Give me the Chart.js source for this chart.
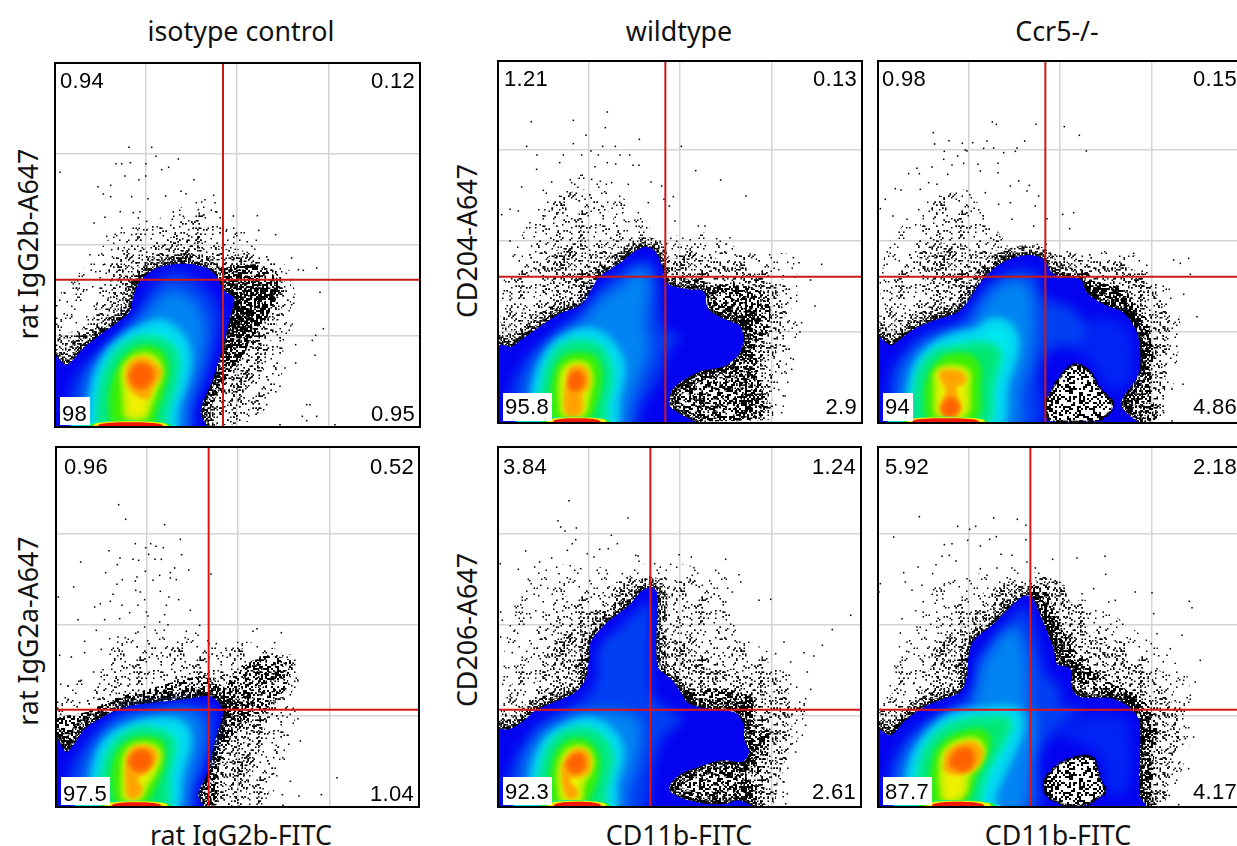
<!doctype html>
<html lang="en">
<head>
<meta charset="UTF-8">
<title>Flow cytometry density plots</title>
<script src="https://cdn.jsdelivr.net/npm/chart.js"></script>
<style>
html, body { margin: 0; background: #fff; overflow: hidden; }
body { position: relative; width: 1237px; height: 846px; font-family: "Noto Sans", "Liberation Sans", Arial, sans-serif; color: #111; }
.panel { position: absolute; border: 2px solid #000; }
.panel canvas { display: block; }
.lbl { position: absolute; white-space: nowrap; font-size: 26.8px; transform: translate(-50%, -50%); }
.lbl.rot { transform: translate(-50%, -50%) rotate(-90deg); }
</style>
</head>
<body>
<script>
// all values are channels on a 0-1090 display scale, one grid step is a decade
const gridTicks = [270, 543, 817];
const levelColors = ['#0040f2', '#0084f2', '#00e8f0', '#00e870', '#40f000', '#f0f000', '#ffa000', '#ff6000'];
const levelBlurs = [6, 5, 4, 3, 3, 2, 2, 0];
const levelSwell = [0, 2, 7, 6, 5, 4, 4, 3];
const bandColors = ['#00e8e8', '#20e840', '#f0f000', '#f01800'];

// ---- isotype control, rat IgG2b
const isoBQuadrants = ['0.94', '0.12', '98', '0.95'];
const isoBGate = [501, 439];
const isoBOutline = [[0,-20],[0,209],[12,199],[27,184],[42,189],[82,234],[132,274],[182,309],[222,344],[232,389],[252,434],[292,469],[342,484],[402,486],[452,474],[482,449],[502,409],[534,384],[527,344],[502,244],[472,144],[434,44],[452,-20]];
const isoBLevels = [
  [[42,-20],[42,94],[72,164],[142,234],[222,314],[262,374],[292,424],[362,464],[422,434],[472,384],[492,324],[482,254],[452,154],[412,54],[392,-20]],
  [[82,-20],[92,104],[122,184],[192,254],[262,324],[302,374],[352,404],[412,374],[442,314],[442,244],[422,154],[392,64],[377,-20]],
  [[107,-20],[117,104],[152,204],[212,264],[272,294],[322,304],[372,264],[392,204],[377,124],[352,54],[337,-20]],
  [[132,-20],[142,104],[172,194],[222,244],[282,259],[342,234],[357,184],[342,104],[322,44],[312,-20]],
  [[172,14],[172,104],[197,179],[242,224],[302,224],[327,174],[312,104],[292,44],[282,14]],
  [[212,29],[207,114],[207,174],[252,209],[297,199],[312,159],[292,104],[277,64],[262,29]],
  [[217,129],[222,179],[257,199],[297,179],[307,154],[282,114],[272,89],[242,99]],
  [[222,149],[242,179],[272,179],[287,154],[267,119],[237,124]]
];
const isoBBand = [
  [[20,-9],[60,6],[222,16],[340,6],[385,-9]],
  [[90,-9],[110,7],[222,15],[335,7],[360,-9]],
  [[105,-9],[120,8],[222,14],[325,8],[340,-9]],
  [[118,-9],[133,6],[222,11],[312,6],[327,-9]]
];
const isoBHeavy = [[[512,424],[622,434],[672,414],[632,324],[582,254],[542,204],[512,244]]];
const isoBDense = [[[502,474],[602,484],[672,434],[662,374],[602,314],[582,254],[562,214],[512,144],[472,74],[452,14],[422,24],[482,204],[512,354]]];
const isoBMedium = [[[0,224],[0,269],[82,294],[152,384],[182,464],[262,534],[332,564],[422,574],[502,534],[632,484],[692,424],[672,334],[642,244],[622,164],[572,104],[542,9],[452,9]]];
const isoBLight = [[[122,364],[142,464],[202,554],[282,594],[422,634],[482,624],[512,544],[642,504],[702,444],[702,314],[662,164],[622,44],[482,14],[492,304],[212,404],[112,304]]];
const isoBSparse = [[[0,384],[112,504],[182,584],[312,624],[422,674],[492,644],[622,544],[702,464],[722,344],[682,224],[672,104],[582,14],[452,14],[0,204]]];
const isoBDots = [[219,836],[287,836],[300,809],[367,801],[180,787],[197,787],[223,790],[270,787],[12,761],[317,769],[338,776],[207,750],[269,750],[249,739],[414,739],[126,718],[164,722],[142,696],[164,688],[227,688],[276,682],[329,690],[375,704],[390,697],[473,692],[447,679],[437,672],[477,670],[193,643],[114,609],[147,626],[232,640],[252,643],[247,624],[272,614],[352,642],[382,629],[427,649],[482,642],[532,630],[604,631],[512,589],[608,587],[659,574],[542,579],[152,569],[197,594],[227,574],[102,514],[167,529],[187,534],[142,484],[132,464],[62,414],[27,399],[82,404],[2,361],[47,334],[147,424],[157,384],[122,364],[707,504],[742,467],[782,474],[727,469],[792,401],[707,364],[802,292],[779,272],[769,257],[719,244],[682,259],[777,212],[719,189],[687,174],[672,119],[752,64],[762,64],[782,29],[739,29],[752,16],[837,4],[672,4],[632,64],[592,84]];

// ---- wildtype, CD204
const wtAQuadrants = ['1.21', '0.13', '95.8', '2.9'];
const wtAGate = [499, 436];
const wtAOutline = [[0,-20],[0,228],[38,226],[68,248],[118,283],[178,323],[248,353],[278,398],[298,433],[358,473],[408,513],[443,526],[468,513],[488,473],[503,418],[568,398],[613,393],[628,338],[678,308],[723,288],[733,248],[723,208],[678,168],[608,153],[558,128],[518,93],[513,48],[538,28],[598,-10]];
const wtALevels = [
  [[38,-20],[38,98],[68,168],[138,248],[228,318],[278,368],[318,418],[408,478],[458,478],[478,418],[488,298],[508,268],[548,258],[508,218],[488,148],[428,48],[408,-20]],
  [[78,-20],[88,98],[118,188],[188,258],[248,298],[308,368],[368,408],[428,458],[448,408],[438,298],[448,218],[418,128],[388,48],[368,-20]],
  [[103,-20],[113,98],[148,198],[198,248],[268,268],[328,238],[363,168],[348,78],[328,-20]],
  [[128,-20],[143,118],[178,208],[238,233],[298,218],[328,148],[313,58],[298,-20]],
  [[163,13],[168,118],[193,183],[248,198],[288,183],[298,128],[278,38],[258,13]],
  [[193,23],[188,118],[203,163],[253,173],[273,138],[263,78],[248,23]],
  [[203,28],[203,68],[210,128],[218,158],[253,158],[263,108],[243,88],[243,38],[228,23]],
  [[213,133],[228,148],[248,138],[248,113],[228,98],[213,108]]
];
const wtABand = [
  [[30,-9],[70,6],[232,16],[340,6],[370,-9]],
  [[120,-9],[135,7],[232,15],[325,7],[340,-9]],
  [[140,-9],[150,8],[232,14],[315,8],[325,-9]],
  [[158,-9],[168,6],[232,11],[298,6],[308,-9]]
];
const wtADense = [
  [[518,98],[598,148],[698,178],[738,238],[768,238],[778,148],[808,48],[768,8],[598,3],[538,23]],
  [[618,398],[698,418],[808,378],[808,278],[758,238],[718,298],[638,328]]
];
const wtAMedium = [
  [[498,478],[578,508],[698,478],[818,418],[858,338],[828,198],[818,98],[818,8],[598,8]],
  [[8,238],[38,308],[138,398],[108,458],[178,518],[258,548],[358,508],[308,448],[248,358],[118,288]]
];
const wtALight = [
  [[18,398],[88,538],[148,658],[268,698],[378,568],[448,528],[328,478],[238,378],[78,258],[8,238]],
  [[498,538],[678,538],[828,458],[878,378],[858,198],[808,98],[478,298]]
];
const wtASparse = [[[3,298],[18,448],[88,598],[148,698],[278,748],[398,648],[478,558],[628,568],[738,508],[878,498],[898,298],[878,148],[838,18],[598,8],[248,300]]];
const wtADots = [[97,901],[223,905],[325,930],[319,883],[261,860],[223,835],[83,827],[311,827],[349,827],[421,848],[547,827],[590,754],[665,726],[741,678],[114,801],[193,801],[182,778],[248,801],[276,813],[298,801],[363,801],[392,801],[113,758],[325,778],[350,774],[402,770],[420,770],[288,766],[68,705],[133,695],[158,720],[218,718],[278,728],[338,718],[388,713],[456,720],[488,708],[495,668],[523,676],[511,648],[8,622],[33,638],[58,633],[93,598],[138,618],[178,628],[258,668],[308,648],[418,628],[448,658],[528,603],[598,588],[618,588],[653,550],[693,553],[968,473],[883,493],[900,478],[935,426],[948,348],[908,298],[903,270],[870,218],[883,188],[878,158],[858,78],[848,28],[38,348],[13,385],[33,378],[23,308],[33,543],[98,528]];

// ---- Ccr5-/-, CD204
const koAQuadrants = ['0.98', '0.15', '94', '4.86'];
const koAGate = [499, 436];
const koAOutline = [[0,-20],[0,253],[34,230],[64,248],[104,278],[174,308],[234,328],[264,358],[304,418],[354,468],[404,493],[454,501],[494,488],[524,443],[604,428],[624,388],[674,353],[734,328],[774,268],[784,188],[774,133],[734,78],[729,43],[779,-10]];
const koAHole = [[499,58],[524,108],[564,158],[594,173],[634,148],[664,98],[699,63],[699,38],[654,3],[514,3]];
const koATint = [[[514,238],[594,298],[724,298],[764,198],[744,108],[694,98],[654,148],[614,198]]];
const koALevels = [
  [[34,-20],[34,138],[74,208],[144,268],[234,298],[284,358],[334,418],[414,458],[474,448],[494,378],[594,328],[614,248],[534,228],[484,168],[464,-20]],
  [[64,-20],[74,138],[114,208],[194,258],[274,288],[324,368],[384,418],[444,408],[464,318],[454,198],[424,98],[404,-20]],
  [[89,-20],[104,118],[139,198],[214,248],[294,268],[344,298],[394,278],[404,218],[374,118],[344,-20]],
  [[109,-20],[124,128],[164,198],[234,218],[314,228],[354,208],[334,118],[304,-20]],
  [[149,13],[149,108],[184,178],[244,198],[289,178],[294,108],[279,13]],
  [[174,23],[174,98],[179,153],[259,153],[264,98],[254,23]],
  [[186,148],[224,150],[254,133],[244,116],[224,113],[229,78],[239,38],[214,20],[189,38],[199,68],[209,98],[194,123]],
  [[192,48],[214,68],[236,48],[224,23],[199,23]]
];
const koABand = [
  [[5,-9],[40,6],[200,16],[330,6],[365,-9]],
  [[60,-9],[75,7],[200,15],[320,7],[335,-9]],
  [[80,-9],[90,8],[200,14],[310,8],[320,-9]],
  [[94,-9],[106,6],[200,11],[292,6],[304,-9]]
];
const koAHeavy = [[[614,428],[694,408],[784,308],[804,198],[794,138],[764,198],[754,308],[674,358],[624,388]]];
const koADense = [[[614,428],[734,398],[804,308],[824,198],[814,98],[834,8],[784,0],[734,58],[784,198],[734,318],[624,378]]];
const koAMedium = [
  [[504,478],[614,488],[764,458],[874,318],[864,168],[844,8],[774,0],[754,200],[604,300]],
  [[0,268],[74,328],[144,398],[114,498],[174,538],[314,518],[374,508],[274,398],[174,308],[34,228]]
];
const koALight = [
  [[14,378],[104,538],[154,658],[264,698],[314,628],[394,508],[314,438],[234,338],[74,288],[4,258]],
  [[504,508],[674,498],[834,418],[874,298],[854,138],[834,18],[764,98],[674,398]]
];
const koASparse = [[[4,398],[24,528],[124,648],[174,698],[304,628],[394,528],[494,538],[614,518],[774,498],[874,398],[904,298],[884,118],[834,8],[574,198],[274,298],[0,258]]];
const koADots = [[163,868],[167,834],[210,844],[250,836],[264,813],[259,816],[340,900],[352,893],[471,893],[556,886],[601,860],[622,813],[437,843],[414,822],[409,812],[374,808],[314,821],[324,843],[344,822],[281,838],[196,812],[236,798],[194,788],[254,776],[219,771],[297,773],[357,776],[357,748],[114,761],[89,745],[121,745],[159,765],[206,743],[304,753],[149,718],[49,700],[66,696],[124,698],[174,713],[264,693],[319,688],[394,708],[419,723],[451,710],[444,693],[479,678],[19,668],[4,640],[42,618],[84,608],[359,653],[394,658],[469,648],[504,610],[551,623],[584,628],[572,580],[464,588],[399,608],[34,523],[24,473],[4,418],[49,488],[69,398],[19,353],[54,378],[764,506],[884,486],[929,491],[904,476],[934,443],[914,383],[954,316],[899,308],[874,228],[884,203],[889,178],[912,113],[879,98],[854,28],[879,3]];

// ---- isotype control, rat IgG2a
const isoAQuadrants = ['0.96', '0.52', '97.5', '1.04'];
const isoAGate = [455, 289];
const isoAOutline = [[0,-20],[0,202],[13,182],[28,162],[48,182],[83,232],[128,262],[168,282],[228,302],[308,312],[398,322],[458,330],[488,307],[498,277],[478,212],[448,92],[423,32],[448,-20]];
const isoALevels = [
  [[38,-20],[38,102],[68,162],[128,232],[198,282],[298,297],[408,307],[468,292],[473,232],[448,132],[408,42],[403,-20]],
  [[78,-20],[88,102],[128,192],[198,252],[298,277],[398,282],[433,242],[428,172],[398,62],[373,-20]],
  [[108,-20],[118,102],[153,192],[218,232],[298,252],[368,242],[388,192],[363,102],[333,-20]],
  [[138,-20],[148,112],[178,182],[238,222],[308,217],[343,192],[328,102],[308,-20]],
  [[178,17],[173,102],[198,172],[258,197],[308,187],[313,132],[288,62],[258,17]],
  [[203,22],[203,102],[213,162],[258,182],[303,162],[293,112],[263,62],[243,22]],
  [[213,122],[223,162],[258,174],[293,157],[278,117],[243,92],[223,92],[238,72],[248,52],[238,32],[218,32],[213,67]],
  [[218,137],[243,162],[273,157],[278,127],[248,107],[228,117]]
];
const isoABand = [
  [[30,-9],[70,6],[238,16],[350,6],[385,-9]],
  [[120,-9],[135,7],[238,15],[335,7],[350,-9]],
  [[140,-9],[150,8],[238,14],[325,8],[335,-9]],
  [[158,-9],[170,6],[238,11],[306,6],[318,-9]]
];
const isoADense = [
  [[0,212],[0,262],[88,282],[168,322],[278,352],[448,392],[508,352],[568,352],[578,262],[528,212],[488,132],[478,2],[418,12],[478,232],[488,302],[178,282],[68,222],[28,162]]
];
const isoAMid = [[[508,372],[548,412],[628,452],[708,432],[678,342],[618,282],[578,262],[508,292]]];
const isoAMedium = [[[448,372],[538,412],[628,452],[708,422],[678,332],[638,272],[618,212],[598,132],[548,2],[428,2],[478,292]]];
const isoALight = [[[8,292],[98,322],[178,452],[278,492],[418,472],[578,472],[708,442],[698,292],[658,132],[618,7],[428,7],[478,292],[168,302]]];
const isoASparse = [[[0,372],[118,392],[188,512],[278,532],[418,522],[468,492],[578,492],[718,442],[718,292],[698,172],[668,92],[628,7],[428,7],[478,332],[178,322],[0,262]]];
const isoADots = [[185,904],[206,860],[323,844],[370,800],[235,787],[281,787],[297,779],[266,775],[319,775],[156,766],[71,732],[189,744],[228,740],[245,737],[275,755],[374,754],[294,740],[313,740],[181,724],[146,700],[353,714],[395,708],[265,704],[308,692],[340,700],[462,696],[196,679],[240,687],[288,677],[340,684],[358,679],[180,665],[235,675],[50,657],[236,647],[250,642],[310,644],[168,635],[4,627],[263,619],[336,627],[160,614],[130,607],[113,597],[195,602],[243,602],[328,602],[365,619],[400,587],[218,580],[268,582],[323,574],[63,559],[143,559],[188,562],[273,570],[308,552],[428,542],[118,527],[83,494],[43,447],[8,452],[83,460],[133,470],[158,502],[183,507],[243,522],[263,537],[333,544],[388,524],[423,512],[478,487],[508,467],[588,524],[600,532],[673,520],[653,490],[713,424],[723,375],[110,402],[138,409],[73,377],[33,360],[128,367],[33,317],[68,310],[723,262],[693,212],[730,195],[658,182],[628,147],[650,97],[700,74],[840,85],[793,34],[726,30],[676,34],[678,2],[618,52]];

// ---- wildtype, CD206
const wtBQuadrants = ['3.84', '1.24', '92.3', '2.61'];
const wtBGate = [454, 289];
const wtBOutline = [[0,-20],[0,227],[30,230],[70,252],[110,287],[190,322],[230,342],[260,382],[270,442],[275,492],[320,547],[390,602],[430,647],[460,657],[475,637],[475,422],[520,377],[545,342],[570,307],[630,292],[710,280],[735,242],[735,202],[750,162],[730,132],[670,137],[600,117],[540,92],[510,52],[540,27],[620,7],[680,7],[720,17],[770,-10]];
const wtBTint = [[[325,467],[355,497],[380,487],[365,452],[335,447]]];
const wtBLevels = [
  [[30,-20],[30,92],[70,182],[140,262],[240,312],[290,372],[300,472],[360,532],[420,592],[450,612],[455,422],[460,332],[510,292],[550,262],[490,202],[460,112],[420,-20]],
  [[70,-20],[75,102],[110,192],[180,247],[280,282],[400,272],[425,232],[410,132],[380,42],[370,-20]],
  [[100,-20],[110,102],[145,192],[200,232],[270,252],[330,222],[360,162],[340,72],[325,-20]],
  [[125,-20],[135,102],[170,192],[230,222],[290,212],[330,152],[310,52],[300,-20]],
  [[165,7],[165,112],[195,177],[245,192],[285,162],[290,102],[265,32],[245,7]],
  [[190,17],[185,117],[215,167],[260,167],[275,122],[245,62],[240,17]],
  [[195,122],[225,162],[260,157],[265,107],[235,92],[215,92],[205,72],[230,42],[220,27],[205,37],[195,92]],
  [[205,127],[230,152],[250,147],[250,117],[225,102]]
];
const wtBBand = [
  [[20,-9],[60,6],[235,18],[340,6],[370,-9]],
  [[115,-9],[130,8],[235,17],[325,8],[340,-9]],
  [[140,-9],[150,9],[235,16],[315,9],[325,-9]],
  [[160,-9],[170,7],[235,13],[300,7],[310,-9]]
];
const wtBDense = [
  [[510,52],[550,102],[680,142],[760,152],[740,92],[780,42],[770,2],[610,2]],
  [[550,352],[680,352],[760,322],[770,212],[810,232],[800,112],[760,92],[740,262],[680,292],[570,292]]
];
const wtBMedium = [
  [[480,642],[480,532],[580,472],[740,392],[860,372],[880,192],[840,92],[820,2],[680,2],[450,300]],
  [[0,262],[100,322],[130,432],[200,532],[310,602],[390,672],[460,692],[460,652],[280,492],[260,372],[110,282],[30,222]]
];
const wtBLight = [
  [[40,372],[110,472],[120,552],[180,622],[330,662],[400,692],[400,612],[310,552],[270,442],[240,332],[110,272],[10,232]],
  [[480,692],[600,672],[700,592],[720,492],[860,392],[880,242],[850,92],[820,7],[680,92],[480,392]]
];
const wtBSparse = [[[5,292],[20,492],[70,662],[160,722],[380,712],[480,732],[680,692],[700,532],[840,442],[920,312],[880,142],[840,7],[480,92],[10,232]]];
const wtBDots = [[210,916],[177,856],[387,864],[185,837],[198,825],[232,834],[230,799],[337,812],[355,787],[220,787],[205,767],[80,765],[265,757],[302,770],[328,772],[158,744],[122,732],[4,727],[58,710],[107,717],[417,750],[420,734],[285,747],[540,754],[577,747],[680,740],[585,715],[467,727],[88,680],[125,662],[180,697],[245,712],[325,697],[370,697],[650,707],[720,694],[725,672],[815,620],[780,617],[1055,572],[1000,529],[970,482],[855,492],[915,460],[945,450],[5,582],[50,572],[95,565],[10,557],[45,524],[5,507],[40,460],[75,422],[15,377],[30,347],[55,332],[925,402],[935,350],[920,322],[920,242],[910,212],[880,187],[890,162],[855,72],[865,37],[860,7],[875,432],[830,457],[410,752],[700,642],[680,612],[610,662],[580,692]];

// ---- Ccr5-/-, CD206
const koBQuadrants = ['5.92', '2.18', '87.7', '4.17'];
const koBGate = [454, 289];
const koBOutline = [[0,-20],[0,227],[34,212],[74,252],[134,297],[194,322],[244,342],[264,392],[269,452],[284,497],[344,547],[394,597],[434,630],[459,627],[484,572],[524,472],[534,427],[574,412],[579,352],[604,327],[694,324],[744,302],[779,262],[784,212],[782,32],[804,-10]];
const koBHole = [[494,72],[514,102],[549,132],[614,150],[644,142],[664,82],[679,42],[644,17],[624,4],[554,4],[504,32]];
const koBTint = [[[514,212],[594,262],[734,262],[754,192],[744,52],[694,32],[664,142],[594,192]]];
const koBLevels = [
  [[34,-20],[34,107],[74,192],[144,257],[224,302],[284,352],[294,442],[344,502],[414,582],[444,592],[474,492],[504,392],[544,352],[544,302],[614,292],[574,262],[534,232],[484,152],[464,-20]],
  [[64,-20],[69,102],[114,192],[204,262],[274,282],[294,352],[324,442],[404,532],[439,442],[444,312],[464,262],[454,142],[414,-20]],
  [[94,-20],[99,102],[144,202],[224,267],[324,282],[409,282],[419,232],[384,142],[339,42],[324,-20]],
  [[124,-20],[129,102],[164,192],[234,242],[324,257],[384,252],[369,202],[324,122],[294,32],[284,-20]],
  [[164,12],[164,102],[189,177],[264,217],[319,212],[319,162],[284,92],[264,32],[239,12]],
  [[194,22],[189,112],[204,167],[274,197],[309,177],[299,132],[264,92],[254,42],[224,17]],
  [[199,112],[214,162],[274,187],[304,162],[284,117],[244,102],[219,102]],
  [[214,127],[234,162],[269,167],[279,132],[254,107],[229,117]]
];
const koBBand = [
  [[20,-9],[60,6],[236,18],[350,6],[385,-9]],
  [[110,-9],[125,8],[236,17],[340,8],[355,-9]],
  [[135,-9],[145,9],[236,16],[328,9],[338,-9]],
  [[154,-9],[165,7],[236,13],[308,7],[319,-9]]
];
const koBDense = [[[444,662],[504,662],[524,582],[584,472],[674,382],[794,322],[834,242],[824,132],[814,2],[774,2],[784,242],[694,324],[574,392],[474,592]]];
const koBMedium = [
  [[464,702],[544,672],[594,572],[724,452],[854,352],[904,242],[874,92],[854,2],[784,2],[574,292]],
  [[0,282],[114,322],[174,472],[254,542],[374,662],[444,672],[424,622],[274,472],[254,352],[34,212]]
];
const koBLight = [
  [[34,332],[94,412],[144,472],[214,592],[374,662],[444,672],[354,552],[264,452],[244,332],[74,242]],
  [[474,692],[544,672],[624,592],[744,492],[874,372],[904,232],[874,92],[854,7],[674,192],[524,442]]
];
const koBSparse = [[[4,292],[64,492],[144,642],[274,692],[454,712],[594,632],[734,552],[924,392],[934,192],[854,7],[674,192],[4,232]]];
const koBDots = [[121,868],[344,864],[415,860],[441,842],[236,839],[272,830],[290,839],[44,807],[266,797],[332,800],[352,808],[441,799],[196,784],[219,787],[304,780],[211,752],[231,735],[189,749],[366,755],[399,752],[444,732],[521,740],[594,744],[678,749],[117,717],[171,724],[74,700],[161,697],[304,712],[354,714],[399,714],[469,714],[680,695],[4,667],[79,672],[99,647],[129,662],[174,632],[214,667],[264,682],[324,692],[644,652],[769,642],[819,640],[931,614],[939,595],[824,577],[609,637],[689,612],[709,617],[0,642],[69,562],[114,537],[64,519],[84,492],[89,462],[129,437],[64,432],[69,402],[104,367],[54,352],[34,312],[834,517],[909,512],[802,497],[874,472],[864,452],[964,437],[834,412],[914,377],[949,372],[934,332],[944,207],[919,202],[874,177],[899,127],[929,112],[854,37],[899,4]];

// digits used as a threshold texture for the crowded parts of the dot clouds
const stippleTile = [
  '3141592653589793238462643383279502884197','1693993751058209749445923078164062862089','9862803482534211706798214808651328230664','7093844609550582231725359408128481117450',
  '2841027019385211055596446229489549303819','6442881097566593344612847564823378678316','5271201909145648566923460348610454326648','2133936072602491412737245870066063155881',
  '7488152092096282925409171536436789259036','0011330530548820466521384146951941511609','4330572703657595919530921861173819326117','9310511854807446237996274956735188575272',
  '4891227938183011949129833673362440656643','0860213949463952247371907021798609437027','7053921717629317675238467481846766940513','2000568127145263560827785771342757789609',
  '1736371787214684409012249534301465495853','7105079227968925892354201995611212902196','0864034418159813629774771309960518707211','3499999983729780499510597317328160963185',
  '9502445945534690830264252230825334468503','5261931188171010003137838752886587533208','3814206171776691473035982534904287554687','3115956286388235378759375195778185778053',
  '2171226806613001927876611195909216420198','9380952572010654858632788659361533818279','6823030195203530185296899577362259941389','1249721775283479131515574857242454150695',
  '9508295331168617278558890750983817546374','6493931925506040092770167113900984882401','2858361603563707660104710181942955596198','9467678374494482553797747268471040475346',
  '4620804668425906949129331367702898915210','4752162056966024058038150193511253382430','0355876402474964732639141992726042699227','9678235478163600934172164121992458631503',
  '0286182974555706749838505494588586926995','6909272107975093029553211653449872027559','6023648066549911988183479775356636980742','6542527862551818417574672890977772793800'
];

const panels = [
  { left: 56, top: 64, w: 363, h: 362, q: isoBQuadrants, textBox: [4, 18, 11], gate: isoBGate, outline: isoBOutline, levels: isoBLevels, band: isoBBand, heavy: isoBHeavy, dense: isoBDense, medium: isoBMedium, light: isoBLight, sparse: isoBSparse, dots: isoBDots, red: '#cc1a1a' },
  { left: 499, top: 62, w: 362, h: 360, q: wtAQuadrants, textBox: [5, 18, 14], gate: wtAGate, outline: wtAOutline, levels: wtALevels, band: wtABand, dense: wtADense, medium: wtAMedium, light: wtALight, sparse: wtASparse, dots: wtADots, red: '#cc1a1a' },
  { left: 879, top: 62, w: 362, h: 360, q: koAQuadrants, textBox: [3, 18, 14], gate: koAGate, outline: koAOutline, levels: koALevels, band: koABand, heavy: koAHeavy, dense: koADense, medium: koAMedium, light: koALight, sparse: koASparse, dots: koADots, hole: koAHole, tint: koATint, red: '#cc1a1a' },
  { left: 57, top: 448, w: 361, h: 358, q: isoAQuadrants, textBox: [7, 20, 11], gate: isoAGate, outline: isoAOutline, levels: isoALevels, band: isoABand, dense: isoADense, mid: isoAMid, medium: isoAMedium, light: isoALight, sparse: isoASparse, dots: isoADots, red: '#e01414' },
  { left: 499, top: 448, w: 361, h: 358, q: wtBQuadrants, textBox: [4, 20, 13], gate: wtBGate, outline: wtBOutline, levels: wtBLevels, band: wtBBand, dense: wtBDense, medium: wtBMedium, light: wtBLight, sparse: wtBSparse, dots: wtBDots, tint: wtBTint, tintColor: '#0070f0', red: '#e01414' },
  { left: 879, top: 448, w: 362, h: 358, q: koBQuadrants, textBox: [6, 20, 13], gate: koBGate, outline: koBOutline, levels: koBLevels, band: koBBand, dense: koBDense, medium: koBMedium, light: koBLight, sparse: koBSparse, dots: koBDots, hole: koBHole, tint: koBTint, red: '#e01414' }
];

const labels = [
  { text: 'isotype control', x: 241, y: 30 },
  { text: 'wildtype', x: 679, y: 30 },
  { text: 'Ccr5-/-', x: 1057, y: 30 },
  { text: 'rat IgG2b-FITC', x: 241, y: 834 },
  { text: 'CD11b-FITC', x: 679, y: 834 },
  { text: 'CD11b-FITC', x: 1058, y: 834 },
  { text: 'rat IgG2b-A647', x: 27, y: 244, rot: true },
  { text: 'rat IgG2a-A647', x: 27, y: 631, rot: true },
  { text: 'CD204-A647', x: 466, y: 241, rot: true },
  { text: 'CD206-A647', x: 466, y: 630, rot: true }
];

labels.forEach(l => {
  const d = document.createElement('div');
  d.className = l.rot ? 'lbl rot' : 'lbl';
  d.style.left = l.x + 'px';
  d.style.top = l.y + 'px';
  d.textContent = l.text;
  document.body.appendChild(d);
});

function stipple(limit, cell, background, thin) {
  const c = document.createElement('canvas');
  c.width = c.height = Math.round(40 * cell);
  const g = c.getContext('2d');
  if (background) { g.fillStyle = background; g.fillRect(0, 0, c.width, c.height); }
  g.fillStyle = '#000';
  stippleTile.forEach((row, y) => {
    for (let x = 0; x < 40; x++) {
      if (+row[x] >= limit) continue;
      if (thin && (x * 3 + y * 5) % 7 > 3) continue;
      g.fillRect(x * cell, y * cell, cell, cell);
    }
  });
  return g.createPattern(c, 'repeat');
}

const patHeavy = stipple(6, 2);
const patDense = stipple(4, 2);
const patMid = stipple(3, 2);
const patMedium = stipple(2, 1.5);
const patLight = stipple(1, 1.5);
const patSparse = stipple(1, 1.5, null, true);
const patHalo = stipple(4, 1.5);
const patRim = stipple(7, 1.5);
const patHole = stipple(4, 2, '#fff');

const closed = pts => pts.concat([pts[0]]);
const area = (pts, color, tension = 0.3, extra = {}) => Object.assign({
  data: closed(pts), showLine: true, fill: 'shape', backgroundColor: color, borderWidth: 0, pointRadius: 0, tension
}, extra);
const stroke = (pts, color, width) => ({
  data: closed(pts), showLine: true, fill: false, borderColor: color, borderWidth: width, pointRadius: 0, tension: 0.3
});

function buildDatasets(p, xMax, yMax) {
  const list = [];
  p.sparse.forEach(s => list.push(area(s, patSparse, 0.2)));
  p.light.forEach(s => list.push(area(s, patLight, 0.2)));
  p.medium.forEach(s => list.push(area(s, patMedium, 0.2)));
  (p.mid || []).forEach(s => list.push(area(s, patMid, 0.2)));
  p.dense.forEach(s => list.push(area(s, patDense, 0.2)));
  (p.heavy || []).forEach(s => list.push(area(s, patHeavy, 0.2)));
  list.push(stroke(p.outline, patHalo, 20));
  list.push(stroke(p.outline, patRim, 7));
  list.push({ data: p.dots, showLine: false, pointStyle: 'rect', pointRadius: 1.1, backgroundColor: '#000', borderWidth: 0 });
  list.push(area(p.outline, '#0404f0', 0.3, { blurNext: 6 }));
  (p.tint || []).forEach(s => list.push(area(s, p.tintColor || '#0024f4', 0.4)));
  p.levels.forEach((s, i) => list.push(area(s, levelColors[i], 0.4, {
    blurNext: levelBlurs[i], borderColor: levelColors[i], borderWidth: levelSwell[i]
  })));
  p.band.forEach((s, i) => list.push(area(s, bandColors[i], 0.3)));
  if (p.hole) {
    list.push(area(p.hole, patHole, 0.3));
    list.push(stroke(p.hole, patRim, 3));
  }
  list.push({ data: [[p.gate[0], 0], [p.gate[0], yMax]], showLine: true, fill: false, borderColor: p.red, borderWidth: 2, pointRadius: 0 });
  list.push({ data: [[0, p.gate[1]], [xMax, p.gate[1]]], showLine: true, fill: false, borderColor: p.red, borderWidth: 2, pointRadius: 0 });
  // later in the list means on top
  list.forEach((d, i) => { d.order = 1000 - i; });
  return list;
}

// blur only the inner density levels, the edge of the blue area stays sharp
const levelBlur = {
  id: 'levelBlur',
  afterDatasetDraw(chart, args) {
    const n = chart.data.datasets[args.index].blurNext;
    if (n !== undefined) chart.ctx.filter = n ? 'blur(' + n + 'px)' : 'none';
  }
};

const quadrantText = {
  id: 'quadrantText',
  afterDraw(chart, args, opts) {
    const { ctx, chartArea: a } = chart;
    const [ul, ur, ll, lr] = opts.values;
    const [inset, fromTop, fromBottom] = opts.box;
    ctx.save();
    ctx.font = '22px "Liberation Sans", Arial, sans-serif';
    ctx.letterSpacing = '0.3px';
    ctx.textBaseline = 'middle';
    const w = ctx.measureText(ll).width;
    ctx.fillStyle = '#fff';
    ctx.fillRect(a.left + 4, a.bottom - 29, w + 5, 28);
    ctx.fillStyle = '#000';
    ctx.textAlign = 'left';
    ctx.fillText(ul, a.left + inset, a.top + fromTop);
    ctx.fillText(ll, a.left + 6, a.bottom - fromBottom);
    ctx.textAlign = 'right';
    ctx.fillText(ur, a.right - 4, a.top + fromTop);
    ctx.fillText(lr, a.right - 4, a.bottom - fromBottom);
    ctx.restore();
  }
};

function axis(max) {
  return {
    type: 'linear', min: 0, max,
    afterBuildTicks: s => { s.ticks = gridTicks.map(v => ({ value: v })); },
    ticks: { display: false },
    border: { display: false },
    grid: { color: '#d4d4d4', lineWidth: 1.5, drawTicks: false }
  };
}

panels.forEach(p => {
  const box = document.createElement('div');
  box.className = 'panel';
  box.style.left = (p.left - 2) + 'px';
  box.style.top = (p.top - 2) + 'px';
  box.style.width = p.w + 'px';
  box.style.height = p.h + 'px';
  const canvas = document.createElement('canvas');
  canvas.width = p.w;
  canvas.height = p.h;
  box.appendChild(canvas);
  document.body.appendChild(box);
  // one channel is a third of a pixel
  const xMax = p.w * 3;
  const yMax = p.h * 3;
  new Chart(canvas.getContext('2d'), {
    type: 'scatter',
    data: { datasets: buildDatasets(p, xMax, yMax) },
    options: {
      responsive: false,
      animation: false,
      events: [],
      layout: { padding: 0, autoPadding: false },
      scales: { x: axis(xMax), y: axis(yMax) },
      plugins: { legend: { display: false }, tooltip: { enabled: false }, quadrantText: { values: p.q, box: p.textBox } }
    },
    plugins: [levelBlur, quadrantText]
  });
});
</script>
</body>
</html>
